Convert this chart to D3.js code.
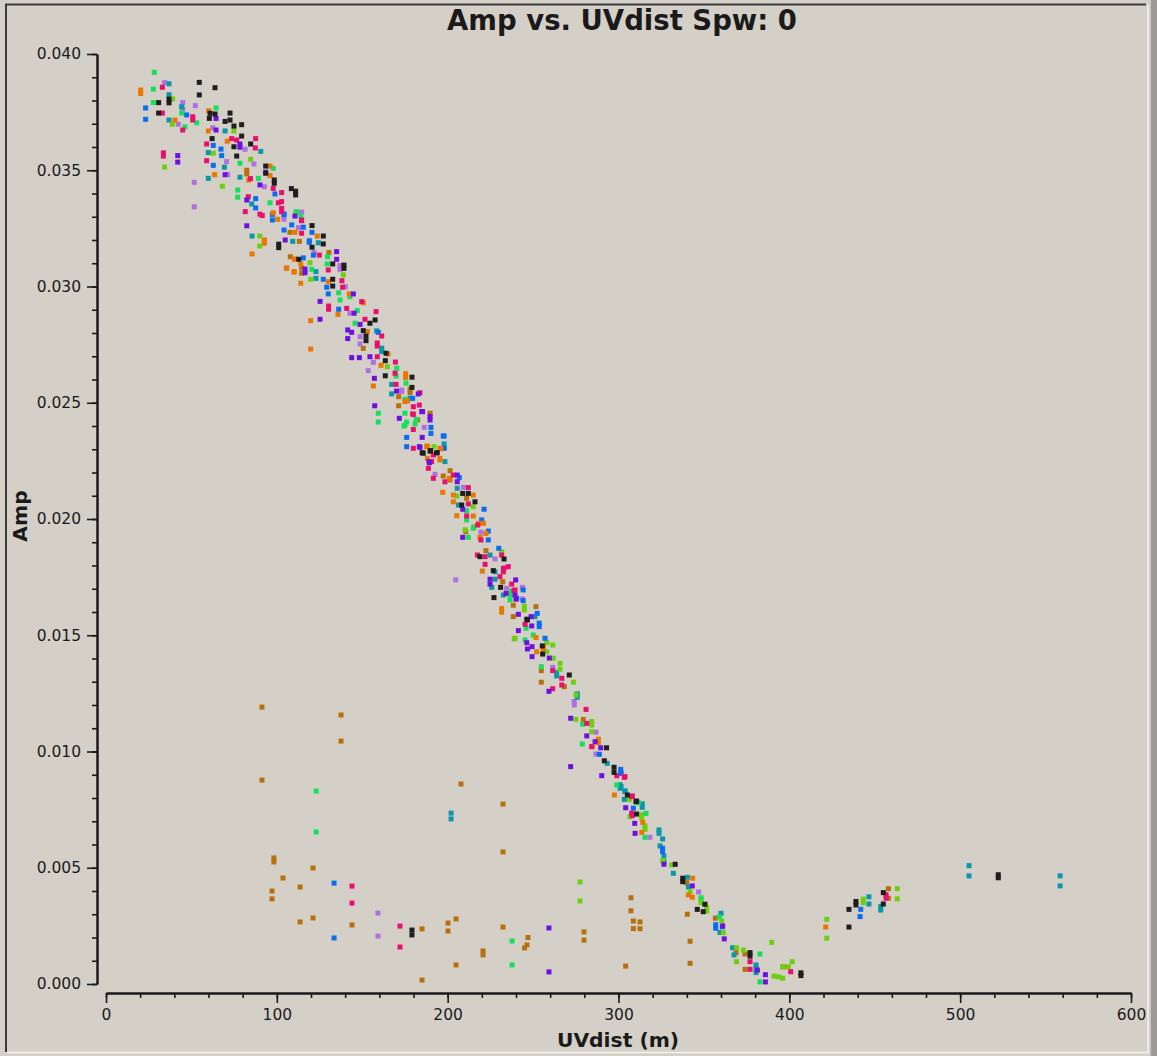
<!DOCTYPE html>
<html>
<head>
<meta charset="utf-8">
<script src="https://cdn.jsdelivr.net/npm/d3@7/dist/d3.min.js"></script>
<style>
  html, body { margin: 0; padding: 0; background: #d4d0c8; }
  svg { display: block; }
  text { font-family: "DejaVu Sans", sans-serif; fill: #1a1a1a; }
</style>
</head>
<body>
<svg id="chart" width="1157" height="1056"></svg>
<script>
// ---------------- DATA (UVdist in m, Amp) ----------------
const titleText = "Amp vs. UVdist Spw: 0";
const xLabel = "UVdist (m)";
const yLabel = "Amp";
const xTicksMajor = [0, 100, 200, 300, 400, 500, 600];
const yTicksMajor = [0.000, 0.005, 0.010, 0.015, 0.020, 0.025, 0.030, 0.035, 0.040];
const seriesNames = ["brown", "lavender", "teal", "lime", "green", "blue", "orange", "pink", "purple", "black"];
const seriesColors = ["#b8700c", "#b070e0", "#0a98a8", "#6cd010", "#14e05c", "#0a6cf2", "#e87800", "#e8106c", "#7010e0", "#1e1e1e"];

const blackPts = [[54.6,.03878],[63.8,.03855],[54.6,.03824],[36.9,.03806],[36.9,.0379],[30.8,.03791],[30.8,.03746],[60.9,.03745],[63.8,.03742],[72.6,.03746],[60.5,.03723],[69.7,.0371],[72.6,.03716],[74.9,.0369],[79.4,.03696],[62.1,.03636],[79.4,.03647],[74.9,.03601],[84.7,.03613],[76.5,.03561],[93.5,.03518],[93.5,.03487],[98.5,.03444],[98.5,.03458],[108.5,.03421],[111,.03394],[111,.0341],[101.1,.03167],[101.1,.03182],[112.8,.03117],
[120.6,.03262],[127.2,.03217],[127.2,.03183],[120.6,.03169],[132.7,.03097],[139.3,.03078],[139.3,.03092],[132.7,.03031],[132.7,.03002],[157.5,.02856],[154.5,.02842],[150.6,.0281],[152.2,.02787],[152.2,.02767],[163.9,.02713],[163.5,.02681],[163.5,.02616],[179.1,.0261],[179.1,.02566],[190,.02294],[193.5,.02285],[185.7,.02283],
[185.1,.02285],[189.7,.02292],[193.9,.02285],[208.8,.0211],[212.1,.0211],[216,.02074],[208.2,.0206],[218.9,.01838],[233,.01828],[226.7,.01778],[231,.01706],[227.1,.01662],[246.3,.01569],
[246.7,.01566],[255.4,.01454],[255.6,.01419],[271.2,.01329],[293,.01016],[291.7,.0096],[297.4,.00932],[297.4,.0091],[310.6,.00787],
[305.2,.00813],[310.2,.00784],[310.6,.00731],[333.2,.00515],[337.6,.0044],[337.6,.00455],[350.6,.00343],[346.1,.00321],[349.6,.00311],[377,.0012],[377,.00135],[406.8,.00036],[406.8,.00048],
[434.9,.00321],[434.9,.00245],[439,.0034],[439,.00355],[455,.00393],[455,.00344],[522.3,.00457],[522.3,.0047],
[179.1,.00232],[179.1,.00211]];

const orangePts = [[20.3,.03845],[20.3,.0383],[60.1,.03756],[40.4,.03716],[59.9,.03669],[71,.03625],[96,.03518],[63.6,.03481],[83.5,.03458],[96,.03477],[97.9,.03317],[100.5,.03289],[92.7,.03186],[92.7,.032],[85.5,.0314],[110.3,.03118],[105.6,.03078],[110.1,.03062],[114,.03014],
[110.6,.03233],[123.7,.03217],[110.6,.03117],[114,.03097],[105.8,.0308],[110.1,.03064],[130.1,.03021],[119.8,.02853],[119.8,.02731],[142.4,.02968],[150.6,.0293],[135.8,.0288],[153,.02806],[165.1,.0271],[161,.02661],[175.4,.02608],[175.4,.02625],[156.5,.02572],[176.5,.02508],[187.7,.02311],[195.5,.02304],[195.5,.02261],
[175,.02505],[188.1,.02314],[195.9,.02302],[188.1,.02261],[195.5,.02254],[201,.02175],[215,.02103],[197.1,.02115],[203.3,.02103],[203.3,.02074],[205.3,.02014],[215,.02013],[218,.01981],[220.9,.01981],[222.4,.01938],[218.9,.01921],[220.3,.01776],[231.6,.01599],[231.6,.01615],[251.7,.0149],
[256,.01437],[256,.0145],[252.1,.01429],[284.6,.01021],[288.2,.01038],[288.2,.01053],[297.6,.00813],
[314.2,.00695],[313.6,.00652],[343.4,.00455],[340.9,.00383],[343.2,.00373],
[421.3,.00245]];

const bluePts = [[23.2,.03768],[47.2,.03738],[23.2,.03719],[67.3,.03591],[62.8,.03607],[67.7,.03563],[62.8,.03521],[87.6,.03378],[87.6,.03338],[98.9,.03398],[97.4,.03286],[97.4,.0331],[104.2,.03309],[108.7,.03265],[104.2,.03243],[115.5,.03255],[119,.03197],[115.5,.03123],
[104.2,.03312],[120.6,.03233],[119,.0319],[121.4,.03135],[127.2,.03031],[129.2,.02997],[130.1,.02968],[136.2,.02902],[159.4,.02803],[179.5,.02519],[190.2,.02394],[190.2,.02368],[176,.02351],[176,.02311],[197.9,.02357],
[197.4,.02357],[198,.02305],[206.8,.02178],[221.3,.02042],[219.9,.01996],[223.8,.01948],[223.8,.0191],[229.9,.01874],[244.2,.01695],[240.4,.01659],[252.4,.01594],[253.6,.01537],[253.6,.01552],[257,.01487],
[244.2,.01649],[288.8,.00988],[301.3,.00923],[301.3,.00908],
[301.5,.00906],[308.7,.00756],[325.8,.00569],[325.8,.00584],[356.9,.0024],[356.9,.00255],[360.8,.00246],
[441.8,.00321],[441.4,.0029],
[133.5,.00434],[133.5,.00198]];

const greenPts = [[28.3,.03921],[27.7,.03849],[27.7,.03791],[64.4,.03768],[44.3,.03746],[46.2,.03687],[53.1,.03704],[78.4,.0353],[97.9,.03508],[89.2,.03465],[77.1,.03415],[77.1,.03384],[96,.0336],[111.6,.03322],[114,.03303],
[111.2,.03319],[129.7,.03128],[129.5,.03097],[120.4,.03074],[136.2,.02973],[137,.02942],[142.8,.02956],[147.1,.02896],[145.8,.02842],[170.2,.02648],[169.8,.02615],[175.6,.02584],[175,.02515],[175,.02455],[159.4,.02455],[159.4,.02417],[180.9,.02409],[176,.02417],[174.4,.0240],
[181.5,.02429],[175,.02404],[211.1,.02036],[211.1,.01996],[215,.0196],[212.1,.01921],[236.5,.01673],[236.5,.01652],[245.9,.0153],[250.1,.01501],
[237.1,.0169],[245.3,.0148],[254.8,.01365],[279,.01117],[278.8,.01032],[299,.00856],
[311.6,.0078],[316.1,.00734],[315.5,.00631],[348.3,.00371],[359,.00289],[382.8,.00129],[382.8,.00009],
[123,.0083],[123,.00654],[237.7,.00185],[237.7,.00082]];

const pinkPts = [[33,.03857],[33,.03746],[50.8,.0373],[44.9,.03673],[50.8,.03716],[58.9,.03613],[73.6,.03636],[76.5,.0363],[87.6,.03636],[87.4,.03596],[33.6,.03561],[33.6,.03575],[58.9,.03541],[84.6,.03464],[97.9,.03422],[83.3,.03386],[81.5,.03322],[90.1,.03311],[91.5,.03305],[102.8,.03404],[100.9,.0336],[102.8,.03322],[114.5,.03286],[114.5,.03229],
[102.8,.03365],[102.8,.03336],[114.5,.03283],[124.9,.03135],[130.1,.03071],[138.1,.03025],[138.5,.02997],[149.7,.02935],[130.3,.02916],[130.3,.02902],[140.9,.02906],[158.1,.02892],[151.6,.02859],[161.4,.02787],[158.8,.02744],[158.8,.02757],[158.8,.02698],[169.4,.02675],[169.2,.02627],[169.8,.02579],[183.8,.02543],[183.4,.0249],[179.9,.0245],[179.9,.02385],[179.9,.02304],[191.6,.02275],[190.6,.02247],
[179.9,.02483],[179.5,.02452],[188.7,.02218],[191.6,.02175],[203.3,.02189],[198.4,.0216],[212.1,.02135],[212.1,.02065],[211.1,.02013],[217.6,.01974],[219.5,.0191],[217.4,.01845],[221.9,.01838],[231.6,.01845],[235.5,.01795],[221.9,.01805],[232.6,.01773],[232.6,.01788],[230.6,.01752],[237.5,.0172],[239.4,.01695],[245.3,.01547],
[238.8,.01692],[261.5,.01348],[266.8,.01315],[266.8,.01286],[261.5,.0127],[281,.01181],[281.4,.01121],[284.3,.01021],[299,.00896],[303.4,.00889],[308.1,.00809],[308.1,.00724],
[303.8,.00892],[307.7,.00806],[307.7,.00735],[377,.00096],[377,.00063],[400.8,.00053],
[456.6,.00369],[456.6,.00384],
[144,.00421],[144,.00348],[172.1,.00249],[172.1,.00159]];

const purplePts = [[64.4,.03723],[64.4,.03673],[78.4,.03599],[78.4,.03613],[42,.03563],[42,.03535],[69.7,.03481],[90.1,.03437],[93.5,.03492],[82.4,.03372],[110.6,.03303],[82.4,.03261],[104.9,.032],[116.5,.03059],[116.5,.03075],
[135,.0315],[135,.03117],[144.8,.02968],[125.3,.02936],[125.3,.02859],[145.2,.02885],[148.7,.02837],[141.5,.02813],[143.8,.02803],[141.5,.02776],[143.8,.02694],[148.3,.02694],[154.5,.02698],[157.1,.02605],[170.1,.0255],[182.8,.02538],[157.3,.02487],[185.3,.02462],[171.7,.02433],[189.7,.02426],[189.7,.02441],[185.1,.02351],[183.4,.02311],[189.1,.02247],
[184.8,.02462],[183.8,.02308],[189.3,.02242],[205.6,.02189],[205.6,.0216],[208.8,.02042],[208.8,.01921],[224.8,.01741],[224.8,.0172],[239.8,.01738],[234.2,.0168],[239.4,.01673],[241.4,.0159],[248.8,.0158],[249.2,.0154],[241.4,.0152],
[240,.01655],[246.3,.01468],[246.7,.01441],[249.4,.01451],[249.4,.01408],[259.5,.01402],[259.3,.01259],[272,.01143],[281.4,.01067],[286.3,.01042],[289.6,.01016],[272,.00935],[290.2,.00896],[304.2,.00758],[309.5,.00691],
[309.7,.00648],[326.6,.00515],[343.2,.00422],[361,.0025],[361.9,.00194],[381.3,.0006],[386,.0004],[386,.00009],
[259.3,.00241],[259.3,.00052]];

const lavenderPts = [[34.3,.03877],[52.3,.03778],[44.9,.03791],[44.9,.03762],[42.3,.03698],[62.5,.03682],[81.4,.0359],[70.6,.03537],[86.6,.03527],[71.2,.03481],[51.7,.03448],[51.7,.03343],[92.7,.03429],[104.2,.03289],[114.5,.0332],[112.6,.03253],
[121.8,.03146],[137,.03074],[137,.0309],[142.8,.02885],[140.1,.02999],[148.7,.02784],[148.7,.02753],[156.5,.02674],[153.5,.02638],[173.1,.02555],[186.3,.02394],
[173.1,.02548],[192.6,.02192],[209.2,.02136],[219.5,.01943],[227.7,.01828],[233.6,.0179],[234.5,.01702],[243.7,.01706],[243.7,.01656],[204.7,.01738],
[261.5,.01362],[274.1,.012],[274.1,.01215],[286.8,.01083],[286.8,.00989],
[318.4,.00631],[346.9,.00396],
[159.2,.00305],[159.2,.00206]];

const tealPts = [[36.9,.03872],[36.9,.03825],[44.3,.03773],[36.9,.03716],[90.6,.03581],[59.9,.03576],[69.3,.03513],[59.9,.03465],[78.4,.0347],[85.3,.03355],[69.7,.03669],[85.5,.03217],[109.3,.03194],
[124.3,.03188],[122.9,.03064],[122.9,.03035],[158.4,.02809],[161.4,.0272],[161.4,.02735],[167.2,.02579],[167.2,.02538],[197.9,.02323],[198.4,.02247],
[178,.02519],[205.6,.02132],[206.3,.0206],[224.8,.01845],[227.7,.01773],[227.7,.01741],[225.8,.01706],[232.6,.01673],[251.1,.0158],
[263.8,.01325],[263.8,.0134],[275.9,.01233],[275.9,.01248],[293.4,.00949],[300.9,.00842],[300.9,.00857],[303.8,.00831],[303.4,.00794],[313.9,.0076],[313.9,.00775],
[301.5,.00849],[303.8,.00827],[323.7,.00648],[323.7,.00663],[325.8,.00624],[324.3,.00594],[326.6,.00551],[326.6,.00526],[332.1,.00476],[340.3,.00459],[340.9,.00418],[359.4,.00222],[360,.00304],[366.8,.00156],[367.6,.00125],[380.5,.00082],[380.5,.00067],[380.5,.00049],
[446.6,.00375],[446.6,.00344],[453.5,.00318],[453.5,.00333],[505.2,.00509],[505.2,.00465],[558.5,.00465],[558.5,.00422],
[202,.00735],[202,.0071]];

const limePts = [[39,.03807],[38.8,.03698],[62.8,.03573],[74.9,.03669],[84.7,.03547],[34.3,.03514],[68.1,.03431],[90,.03217],[90,.03174],
[119.4,.03102],[119.8,.03031],[138.9,.0305],[164.7,.02655],[192,.02311],
[205.3,.02099],[215,.02053],[210.2,.01953],[215.4,.01967],[231.6,.01859],[244.9,.01609],[244.9,.01625],[239.4,.01487],
[239,.01484],[258,.01468],[261.5,.01458],[258,.01429],[261.8,.01401],[265.8,.01379],[265.8,.01354],[273.6,.01298],[275.1,.01243],[275,.01138],[284.3,.01114],[284.3,.01129],[284.3,.01085],[306.3,.00794],
[306.7,.0072],[313.6,.00713],[313.6,.00728],[315.5,.00665],[315.5,.0068],[325.8,.0053],[331.1,.00512],[341.9,.00397],[348.3,.0035],[348.3,.00365],[351.6,.00314],[351.6,.00329],[360.4,.00272],[361.3,.00221],[369.1,.00156],[373.1,.00146],[369.1,.00096],[389.7,.00179],[391,.00034],[393.6,.00031],[396.1,.00025],[396.1,.00074],[399.4,.00074],[401.7,.00096],
[421.9,.00278],[421.9,.00197],[443.3,.0035],[443.3,.00365],[463.2,.0041],[463.2,.00366],
[277.5,.00439],[277.5,.00357]];

const brownPts = [[107.7,.03233],[113.2,.03194],[82.4,.03484],[82.4,.035],[107.9,.03128],[114.5,.03057],
[130.5,.03146],[114.5,.0308],[150.6,.02734],[171.3,.02526],[171.3,.02487],[178,.02543],[178,.02558],[189.7,.02455],[182.4,.02426],[197.9,.02304],
[201.4,.02208],[197.4,.02185],[201.4,.02168],[211.1,.02089],[210.6,.01945],[222.4,.01864],[232.2,.0173],[238.4,.01629],[251.7,.01623],[238.4,.0158],
[254.8,.01348],[254.8,.01298],[268.3,.01279],[279.4,.01138],
[339.9,.00436],[340.3,.003],[356.7,.00283],[368.8,.00135],[374.1,.00129],[374.1,.00063],[396.5,.00074],[307.3,.00371],[307.3,.00315],[308.7,.00271],[312.6,.00267],[308.7,.00238],[312.6,.00238],[341.9,.00184],[341.9,.00089],[304.2,.00077],
[458,.0041],[458,.00369],
[91.3,.01191],[91.3,.00877],[137.6,.01157],[137.6,.01045],[98.3,.00542],[98.3,.00525],[97.2,.004],[97.2,.00366],[103.6,.00456],[113.6,.00417],[113.6,.00267],[121.2,.00499],[121.2,.00284],[144,.00254],[185,.00237],[185,.00017],[207.8,.0086],[200.2,.00262],[200.2,.00228],[204.9,.0028],[204.9,.00082],[220.7,.00142],[220.7,.00125],[232.4,.00774],[232.4,.00568],[232.4,.00245],[246.4,.00168],[245,.00155],[247,.002],[279.8,.00224],[279.8,.00189]];

const seriesPts = [brownPts, lavenderPts, tealPts, limePts, greenPts, bluePts, orangePts, pinkPts, purplePts, blackPts];

// ---------------- DRAW ----------------
const W = 1157, H = 1056;
const svg = d3.select("#chart");

svg.append("rect").attr("x", 0).attr("y", 0).attr("width", W).attr("height", H).attr("fill", "#d4d0c8");

// panel frame (etched look)
svg.append("path").attr("d", "M6,1052 V4.5 H1146").attr("fill", "none").attr("stroke", "#3a3a3a").attr("stroke-width", 2);
svg.append("path").attr("d", "M7,1052.5 H1148 V5").attr("fill", "none").attr("stroke", "#f4f2ee").attr("stroke-width", 1.5);
svg.append("rect").attr("x", 1151).attr("y", 0).attr("width", 6).attr("height", H).attr("fill", "#9c9a96");
svg.append("rect").attr("x", 1150).attr("y", 0).attr("width", 1).attr("height", H).attr("fill", "#c8c6c0");

const x = d3.scaleLinear().domain([0, 600]).range([106, 1131]);
const y = d3.scaleLinear().domain([0, 0.04]).range([984, 54]);

// title and labels
svg.append("text").attr("x", 622).attr("y", 30).attr("text-anchor", "middle")
  .attr("font-size", 27.5).attr("font-weight", "bold").text(titleText);
svg.append("text").attr("x", 618).attr("y", 1047).attr("text-anchor", "middle")
  .attr("font-size", 20.3).attr("font-weight", "bold").text(xLabel);
svg.append("text").attr("transform", "translate(27,516) rotate(-90)").attr("text-anchor", "middle")
  .attr("font-size", 20.3).attr("font-weight", "bold").text(yLabel);

// axes
const axisColor = "#1a1a1a";
const yMinor = d3.range(0, 41).map(i => i / 1000);
const xMinor = d3.range(0, 31).map(i => i * 20);

const gyMinor = svg.append("g").attr("transform", "translate(97,0)")
  .call(d3.axisLeft(y).tickValues(yMinor).tickSize(5).tickSizeOuter(0).tickFormat(""));
const gy = svg.append("g").attr("transform", "translate(97,0)")
  .call(d3.axisLeft(y).tickValues(yTicksMajor).tickSize(10).tickSizeOuter(0).tickPadding(6).tickFormat(d3.format(".3f")));
const gxMinor = svg.append("g").attr("transform", "translate(0,993)")
  .call(d3.axisBottom(x).tickValues(xMinor).tickSize(5).tickSizeOuter(0).tickFormat(""));
const gx = svg.append("g").attr("transform", "translate(0,993)")
  .call(d3.axisBottom(x).tickValues(xTicksMajor).tickSize(10).tickSizeOuter(0).tickPadding(6).tickFormat(d3.format("d")));

[gyMinor, gy, gxMinor, gx].forEach(g => {
  g.selectAll("path.domain").attr("stroke", axisColor).attr("stroke-width", 2);
  g.selectAll(".tick line").attr("stroke", axisColor).attr("stroke-width", 1.6);
  g.selectAll(".tick text").attr("fill", "#222").attr("font-size", 15.5)
    .attr("font-family", "DejaVu Sans, sans-serif");
});

// points
const S = 5;
const plot = svg.append("g");
seriesPts.forEach((pts, i) => {
  plot.append("g").attr("fill", seriesColors[i])
    .selectAll("rect").data(pts).join("rect")
    .attr("x", d => x(d[0]) - S / 2)
    .attr("y", d => y(d[1]) - S / 2)
    .attr("width", S).attr("height", S);
});
</script>
</body>
</html>
